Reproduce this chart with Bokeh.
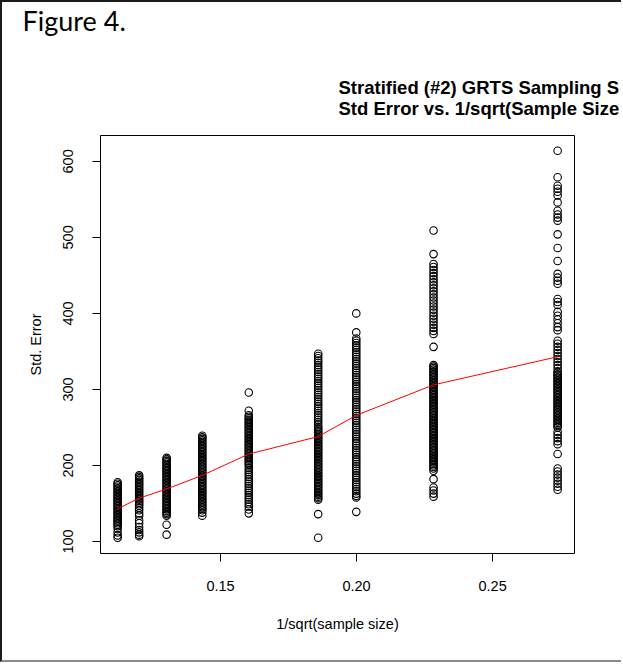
from bokeh.plotting import figure
from bokeh.models import Range1d, FixedTicker, Title
from bokeh.embed import file_html
from bokeh.resources import INLINE

# 1/sqrt(sample size) for each simulated design
inv_sqrt_n = [0.1122, 0.1201, 0.1302, 0.1433, 0.1604, 0.1859, 0.1999, 0.2283, 0.2739]

# standard errors from the simulation replicates, one list per design
se_g1 = [178, 176, 174, 172, 170, 168, 166, 164, 162, 160, 158, 156, 154, 152, 150, 148,
         146, 144, 142, 140, 138, 136, 134, 132, 130, 128, 126, 124, 122, 120, 117, 112,
         108, 105]
se_g2 = [187, 185, 183, 181, 179, 177, 175, 173, 171, 169, 167, 165, 163, 161, 159, 157,
         155, 153, 151, 149, 147, 144, 141, 137, 134, 128, 124, 119, 115, 112, 109, 107]
se_g3 = [210, 208, 206, 204, 202, 200, 198, 196, 194, 192, 190, 188, 186, 184, 182, 180,
         178, 176, 174, 172, 170, 168, 166, 164, 162, 160, 158, 156, 154, 152, 150, 148,
         146, 144, 142, 140, 138, 136, 134, 122, 109]
se_g4 = [239, 237, 235, 233, 231, 229, 227, 225, 223, 221, 219, 217, 215, 213, 211, 209,
         207, 205, 203, 201, 199, 197, 195, 193, 191, 189, 187, 185, 183, 181, 179, 177,
         175, 173, 171, 169, 167, 165, 163, 161, 159, 157, 155, 153, 151, 149, 147, 145,
         143, 141, 138, 134]
se_g5 = [296, 272, 266, 264, 262, 260, 258, 256, 254, 252, 250, 248, 246, 244, 242, 240,
         238, 236, 234, 232, 230, 228, 226, 224, 222, 220, 218, 216, 214, 212, 210, 208,
         206, 204, 202, 200, 197, 194, 191, 188, 185, 182, 179, 176, 173, 170, 167, 164,
         161, 158, 155, 152, 149, 146, 142, 137]
se_g6 = [347, 344, 341, 338, 335, 332, 329, 326, 323, 320, 317, 314, 311, 308, 305, 302,
         299, 296, 293, 290, 287, 284, 281, 278, 275, 272, 269, 266, 263, 260, 257, 254,
         251, 249, 247, 245, 243, 241, 239, 237, 235, 233, 231, 229, 227, 225, 223, 221,
         219, 217, 215, 213, 211, 209, 207, 205, 203, 201, 199, 197, 195, 193, 191, 189,
         187, 185, 183, 181, 179, 177, 175, 173, 171, 169, 167, 165, 163, 161, 159, 157,
         155, 136, 105]
se_g7 = [400, 375, 367, 364, 361, 358, 355, 352, 349, 346, 343, 340, 337, 334, 331, 328,
         325, 322, 319, 316, 313, 310, 307, 304, 301, 298, 295, 292, 289, 286, 283, 280,
         277, 274, 271, 268, 265, 262, 259, 256, 253, 250, 247, 244, 241, 238, 235, 232,
         229, 226, 223, 220, 217, 214, 211, 208, 205, 202, 199, 196, 193, 190, 187, 184,
         181, 178, 175, 172, 169, 166, 163, 160, 158, 139]
se_g8 = [509, 478, 465, 461, 457, 453, 449, 445, 441, 437, 433, 429, 425, 421, 417, 413,
         409, 405, 401, 397, 393, 389, 385, 381, 377, 373, 356, 332, 330, 328, 326, 324,
         322, 320, 318, 316, 314, 312, 310, 308, 306, 304, 302, 300, 298, 296, 294, 292,
         290, 288, 286, 284, 282, 280, 278, 276, 274, 272, 270, 268, 266, 264, 262, 260,
         258, 256, 254, 252, 250, 248, 246, 244, 242, 240, 238, 236, 234, 232, 230, 228,
         226, 224, 222, 220, 218, 216, 214, 212, 210, 208, 206, 204, 202, 200, 198, 196,
         193, 182, 171, 167, 163, 159]
se_g9 = [614, 579, 568, 564, 560, 555, 546, 535, 530, 526, 522, 504, 486, 469, 452, 447,
         443, 439, 419, 415, 411, 402, 397, 392, 387, 382, 378, 364, 360, 356, 352, 348,
         344, 340, 336, 332, 328, 324, 322, 320, 318, 316, 314, 312, 310, 308, 306, 304,
         302, 300, 298, 296, 294, 292, 290, 288, 286, 284, 282, 280, 278, 276, 274, 272,
         270, 268, 266, 264, 262, 260, 258, 256, 254, 252, 250, 244, 240, 236, 232, 228,
         215, 196, 192, 188, 184, 180, 176, 172, 168]

# mean standard error per design (red curve)
mean_se = [143, 157, 169, 187, 215, 238, 266, 306, 343]

x_ticks = [0.15, 0.20, 0.25]
x_tick_labels = ["0.15", "0.20", "0.25"]
y_ticks = [100, 200, 300, 400, 500, 600]
y_tick_labels = ["100", "200", "300", "400", "500", "600"]

heading_lines = ["Stratified (#2) GRTS Sampling S", "Std Error vs. 1/sqrt(Sample Size"]
caption = "Figure 4."

groups = [se_g1, se_g2, se_g3, se_g4, se_g5, se_g6, se_g7, se_g8, se_g9]
pts_x, pts_y = [], []
for xv, vals in zip(inv_sqrt_n, groups):
    pts_x.extend([xv] * len(vals))
    pts_y.extend(vals)

AXIS_FONT = "Liberation Sans"
W, H = 621, 662
LEFT, RIGHT, TOP, BOTTOM = 98, 49, 133, 111

p = figure(width=W, height=H, output_backend="svg", toolbar_location=None,
           x_range=Range1d(0.1059, 0.2801), y_range=Range1d(84.2, 634),
           min_border_left=LEFT, min_border_right=RIGHT,
           min_border_top=TOP, min_border_bottom=BOTTOM,
           background_fill_color="white", border_fill_color="white")
p.styles = {"border-top": "2px solid #1c1c1c",
            "border-left": "2px solid #1c1c1c",
            "border-bottom": "2px solid #8a8a8a"}
p.title = None

p.xgrid.visible = False
p.ygrid.visible = False
p.outline_line_color = "black"
p.outline_line_width = 1

p.scatter(pts_x, pts_y, marker="circle", size=7.5, fill_color=None,
          line_color="black", line_width=1.1)
p.line(inv_sqrt_n, mean_se, line_color="red", line_width=1)

for ax in (p.xaxis[0], p.yaxis[0]):
    ax.axis_line_color = "black"
    ax.major_tick_in = 0
    ax.major_tick_out = 8
    ax.major_tick_line_color = "black"
    ax.minor_tick_line_color = None
    ax.major_label_text_font = AXIS_FONT
    ax.major_label_text_font_size = "14.5px"
    ax.major_label_text_color = "black"
    ax.axis_label_text_font = AXIS_FONT
    ax.axis_label_text_font_size = "14.5px"
    ax.axis_label_text_font_style = "normal"
    ax.axis_label_text_color = "black"

xa = p.xaxis[0]
xa.ticker = FixedTicker(ticks=x_ticks)
xa.major_label_overrides = dict(zip(x_ticks, x_tick_labels))
xa.bounds = (x_ticks[0], x_ticks[-1])
xa.major_label_standoff = 19
xa.axis_label = "1/sqrt(sample size)"
xa.axis_label_standoff = 22

ya = p.yaxis[0]
ya.ticker = FixedTicker(ticks=y_ticks)
ya.major_label_overrides = dict(zip(y_ticks, y_tick_labels))
ya.bounds = (y_ticks[0], y_ticks[-1])
ya.major_label_orientation = "vertical"
ya.major_label_standoff = 19
ya.axis_label = "Std. Error"
ya.axis_label_standoff = 17

# stacked panels above the frame, nearest first: heading block, gap, caption
p.add_layout(Title(text="\n".join(heading_lines), align="left", offset=238,
                   text_font=AXIS_FONT, text_font_size="18.5px", text_font_style="bold",
                   text_line_height=0.98, text_color="black", standoff=33), "above")
p.add_layout(Title(text=" ", text_font_size="1px", standoff=19), "above")
p.add_layout(Title(text=caption, align="left", offset=-78,
                   text_font="Lato", text_font_size="27px", text_font_style="normal",
                   text_color="black", standoff=-1), "above")

open("out.html", "w").write(file_html(p, INLINE))
